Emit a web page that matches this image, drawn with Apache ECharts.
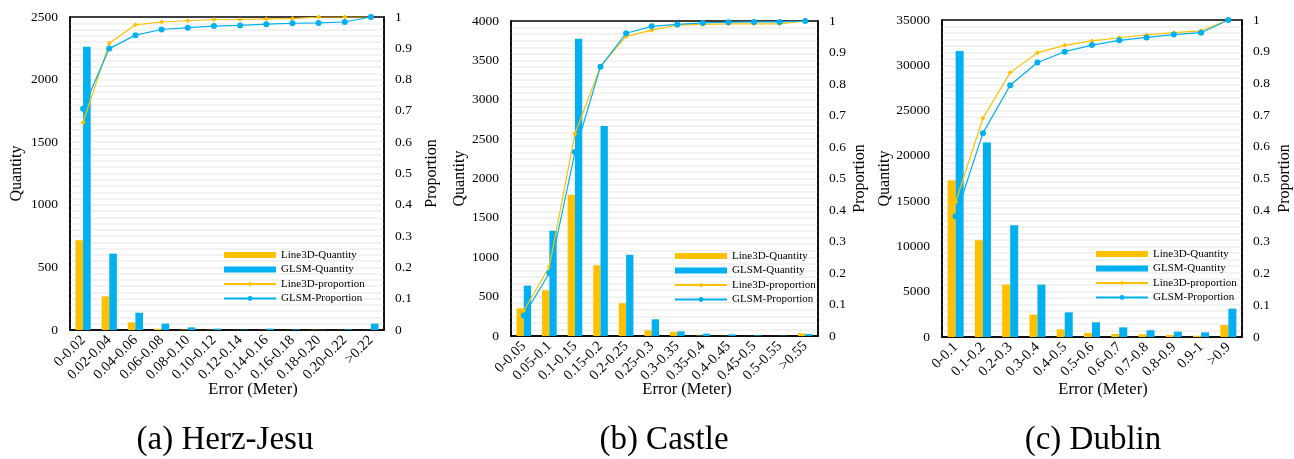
<!DOCTYPE html>
<html>
<head>
<meta charset="utf-8">
<script src="https://cdn.jsdelivr.net/npm/echarts@6/dist/echarts.min.js"></script>
<style>html,body{margin:0;padding:0;background:#fff;}#c{width:1294px;height:459px;}</style>
</head>
<body>
<div id="c"></div>
<script>
// ---- Data ----
const catsA = ['0-0.02','0.02-0.04','0.04-0.06','0.06-0.08','0.08-0.10','0.10-0.12','0.12-0.14','0.14-0.16','0.16-0.18','0.18-0.20','0.20-0.22','>0.22'];
const line3dQtyA = [716, 269, 61, 10, 3, 2, 1, 1, 1, 2, 1, 1];
const glsmQtyA   = [2263, 610, 138, 51, 21, 11, 3, 11, 5, 2, 5, 51];
const line3dPropA = [0.663, 0.916, 0.975, 0.984, 0.988, 0.992, 0.992, 0.994, 0.995, 1.0, 1.0, 1.0];
const glsmPropA   = [0.707, 0.899, 0.942, 0.960, 0.966, 0.971, 0.973, 0.977, 0.980, 0.981, 0.984, 1.0];

const catsB = ['0-0.05','0.05-0.1','0.1-0.15','0.15-0.2','0.2-0.25','0.25-0.3','0.3-0.35','0.35-0.4','0.4-0.45','0.45-0.5','0.5-0.55','>0.55'];
const line3dQtyB = [352, 581, 1794, 899, 416, 72, 55, 4, 2, 1, 1, 34];
const glsmQtyB   = [640, 1336, 3775, 2668, 1031, 212, 59, 30, 21, 8, 4, 25];
const line3dPropB = [0.080, 0.220, 0.642, 0.856, 0.951, 0.971, 0.987, 0.989, 0.991, 0.991, 0.991, 1.0];
const glsmPropB   = [0.065, 0.200, 0.584, 0.855, 0.961, 0.983, 0.989, 0.994, 0.996, 0.997, 0.997, 1.0];

const catsC = ['0-0.1','0.1-0.2','0.2-0.3','0.3-0.4','0.4-0.5','0.5-0.6','0.6-0.7','0.7-0.8','0.8-0.9','0.9-1','>0.9'];
const line3dQtyC = [17316, 10684, 5784, 2468, 847, 442, 332, 295, 221, 147, 1326];
const glsmQtyC   = [31574, 21479, 12342, 5784, 2726, 1621, 1068, 737, 589, 516, 3132];
const line3dPropC = [0.426, 0.690, 0.834, 0.897, 0.920, 0.934, 0.944, 0.953, 0.960, 0.966, 1.0];
const glsmPropC   = [0.381, 0.643, 0.794, 0.866, 0.900, 0.921, 0.936, 0.945, 0.954, 0.960, 1.0];

const qtyMax = [2500, 4000, 35000];
const qtyInterval = [500, 500, 5000];
const captions = ['(a) Herz-Jesu', '(b) Castle', '(c) Dublin'];
const seriesNames = ['Line3D-Quantity', 'GLSM-Quantity', 'Line3D-proportion', 'GLSM-Proportion'];

// ---- Layout / style ----
const FONT = 'Liberation Serif';
const YEL = '#FFC000', BLU = '#00B0F0';
const grids = [
  {left: 70, top: 17, width: 314, height: 313},
  {left: 511, top: 21, width: 307, height: 315},
  {left: 942, top: 20, width: 306, height: 317}
];
const minorSplit = [10, 6, 7];
const barW = [7.6, 7.3, 8];
const legendPos = [{left: 223, top: 249}, {left: 674, top: 250}, {left: 1095, top: 248}];
const qNameGap = [45, 41, 45];
const pNameGap = [40, 34, 35];
const errCenter = [253, 687, 1103];
const capCenter = [225, 664, 1093];

const datasets = [
  {cats: catsA, q1: line3dQtyA, q2: glsmQtyA, p1: line3dPropA, p2: glsmPropA},
  {cats: catsB, q1: line3dQtyB, q2: glsmQtyB, p1: line3dPropB, p2: glsmPropB},
  {cats: catsC, q1: line3dQtyC, q2: glsmQtyC, p1: line3dPropC, p2: glsmPropC}
];

const option = {
  animation: false,
  backgroundColor: '#fff',
  textStyle: {fontFamily: FONT, color: '#000'},
  grid: [], xAxis: [], yAxis: [], series: [], legend: [], title: []
};

datasets.forEach((d, i) => {
  const g = grids[i];
  option.grid.push(Object.assign({show: true, borderColor: '#000', borderWidth: 1.5, backgroundColor: '#fff', containLabel: false}, g));
  option.xAxis.push({
    type: 'category', gridIndex: i, data: d.cats, boundaryGap: true,
    axisLine: {lineStyle: {color: '#000', width: 1.5}},
    axisTick: {show: false},
    axisLabel: {rotate: 45, interval: 0, fontSize: 14.5, color: '#000', fontFamily: FONT, margin: 8}
  });
  option.yAxis.push({
    type: 'value', gridIndex: i, min: 0, max: qtyMax[i], interval: qtyInterval[i],
    name: 'Quantity', nameLocation: 'middle', nameRotate: 90, nameGap: qNameGap[i],
    nameTextStyle: {fontSize: 16, fontFamily: FONT, color: '#000'},
    axisLine: {show: true, lineStyle: {color: '#000', width: 1.5}},
    axisTick: {show: false},
    axisLabel: {fontSize: 13.5, color: '#000', fontFamily: FONT, margin: 12, formatter: v => String(v)},
    splitLine: {show: true, showMinLine: false, showMaxLine: false, lineStyle: {color: '#eeeeee', width: 1.5}},
    minorTick: {show: false, splitNumber: minorSplit[i]},
    minorSplitLine: {show: true, lineStyle: {color: '#eeeeee', width: 1.5}}
  });
  option.yAxis.push({
    type: 'value', gridIndex: i, position: 'right', min: 0, max: 1, interval: 0.1,
    name: 'Proportion', nameLocation: 'middle', nameRotate: 90, nameGap: pNameGap[i],
    nameTextStyle: {fontSize: 16, fontFamily: FONT, color: '#000'},
    axisLine: {show: true, lineStyle: {color: '#000', width: 1.5}},
    axisTick: {show: false},
    axisLabel: {fontSize: 13.5, color: '#000', fontFamily: FONT, margin: 11, formatter: v => String(+v.toFixed(1))},
    splitLine: {show: false}
  });
  const qAxis = i * 2, pAxis = i * 2 + 1;
  option.series.push(
    {name: seriesNames[0], type: 'bar', xAxisIndex: i, yAxisIndex: qAxis, data: d.q1, barWidth: barW[i], barGap: '0%', itemStyle: {color: YEL}},
    {name: seriesNames[1], type: 'bar', xAxisIndex: i, yAxisIndex: qAxis, data: d.q2, barWidth: barW[i], barGap: '0%', itemStyle: {color: BLU}},
    {name: seriesNames[2], type: 'line', xAxisIndex: i, yAxisIndex: pAxis, data: d.p1, symbol: 'diamond', symbolSize: 5, z: 5,
      lineStyle: {color: YEL, width: 1.2}, itemStyle: {color: YEL}},
    {name: seriesNames[3], type: 'line', xAxisIndex: i, yAxisIndex: pAxis, data: d.p2, symbol: 'circle', symbolSize: 6, z: 6,
      lineStyle: {color: BLU, width: 1.2}, itemStyle: {color: BLU}}
  );
  option.legend.push({
    orient: 'vertical', left: legendPos[i].left, top: legendPos[i].top,
    itemWidth: 52, itemHeight: 6, itemGap: 2.5, padding: 0,
    data: [
      {name: seriesNames[0], icon: 'rect'},
      {name: seriesNames[1], icon: 'rect'},
      {name: seriesNames[2]},
      {name: seriesNames[3]}
    ],
    textStyle: {fontSize: 11, lineHeight: 12, fontFamily: FONT, color: '#000'},
    selectedMode: false
  });
  option.title.push({
    text: 'Error (Meter)', left: errCenter[i], top: 381, textAlign: 'center', padding: 0,
    textStyle: {fontSize: 16.5, fontWeight: 'normal', fontFamily: FONT, color: '#000'}
  });
  option.title.push({
    text: captions[i], left: capCenter[i], top: 424, textAlign: 'center', padding: 0,
    textStyle: {fontSize: 33, fontWeight: 'normal', fontFamily: FONT, color: '#000'}
  });
});

const chart = echarts.init(document.getElementById('c'), null, {renderer: 'canvas'});
chart.setOption(option);
</script>
</body>
</html>
